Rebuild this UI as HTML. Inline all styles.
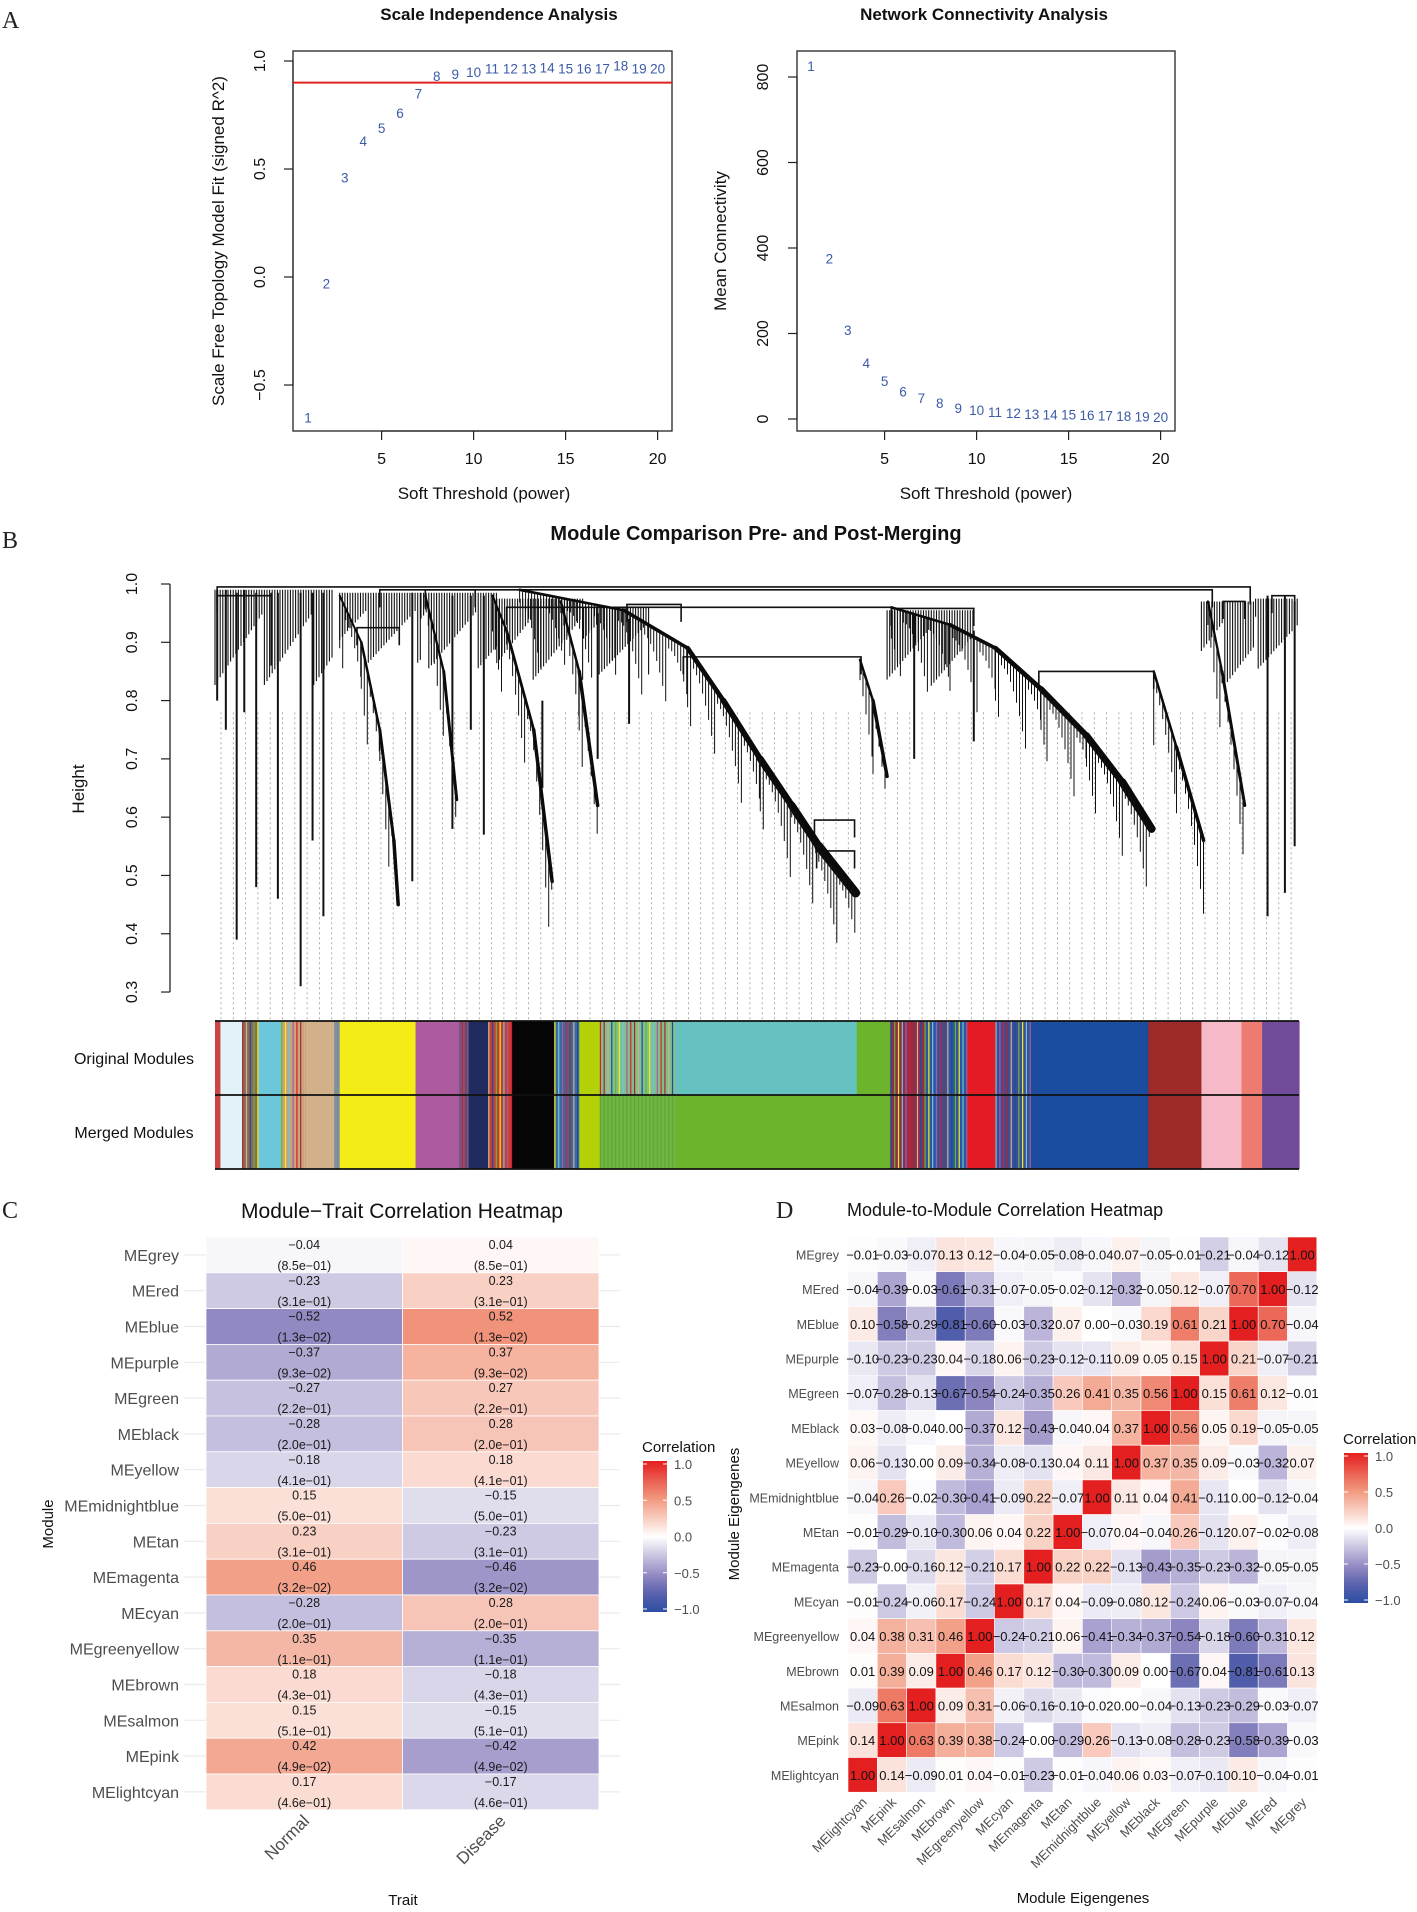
<!DOCTYPE html>
<html><head><meta charset="utf-8"><style>
html,body{margin:0;padding:0;background:#fff;}
svg{display:block;font-family:"Liberation Sans",sans-serif;}
</style></head><body>
<svg id="fig" width="1417" height="1912" viewBox="0 0 1417 1912" xmlns="http://www.w3.org/2000/svg">
<rect width="1417" height="1912" fill="#fff"/>
<g font-family="Liberation Serif, serif" font-size="24" fill="#222">
<text x="2" y="28">A</text>
<text x="2" y="548">B</text>
<text x="2" y="1218">C</text>
<text x="776" y="1218">D</text>
</g>
<g id="pa"></g><g id="pb"></g><g id="pc"></g><g id="pd"></g>
</svg>
<script>
// ---------- Panel A data ----------
const powers = [1,2,3,4,5,6,7,8,9,10,11,12,13,14,15,16,17,18,19,20];
const sftR2 = [-0.65,-0.03,0.46,0.63,0.69,0.76,0.85,0.93,0.94,0.95,0.965,0.965,0.965,0.97,0.965,0.965,0.965,0.98,0.965,0.965];
const meanK = [826,376,208,131,89,64,49,37,26,21,16,14,12,11,10,9,8,7,6,5];
const r2Ticks = [1.0,0.5,0.0,-0.5];
const kTicks = [0,200,400,600,800];
const xTicks = [5,10,15,20];
const cutoff = 0.9;
// ---------- Panel C data ----------
const modulesC = ["MEgrey","MEred","MEblue","MEpurple","MEgreen","MEblack","MEyellow","MEmidnightblue","MEtan","MEmagenta","MEcyan","MEgreenyellow","MEbrown","MEsalmon","MEpink","MElightcyan"];
const traits = ["Normal","Disease"];
const corNormal = [-0.04,-0.23,-0.52,-0.37,-0.27,-0.28,-0.18,0.15,0.23,0.46,-0.28,0.35,0.18,0.15,0.42,0.17];
const corDisease = [0.04,0.23,0.52,0.37,0.27,0.28,0.18,-0.15,-0.23,-0.46,0.28,-0.35,-0.18,-0.15,-0.42,-0.17];
const pvals = ["8.5e-01","3.1e-01","1.3e-02","9.3e-02","2.2e-01","2.0e-01","4.1e-01","5.0e-01","3.1e-01","3.2e-02","2.0e-01","1.1e-01","4.3e-01","5.1e-01","4.9e-02","4.6e-01"];
const legendTicks = [1.0,0.5,0.0,-0.5,-1.0];
// ---------- Panel D data ----------
const rowsD = ["MEgrey","MEred","MEblue","MEpurple","MEgreen","MEblack","MEyellow","MEmidnightblue","MEtan","MEmagenta","MEcyan","MEgreenyellow","MEbrown","MEsalmon","MEpink","MElightcyan"];
const colsD = ["MElightcyan","MEpink","MEsalmon","MEbrown","MEgreenyellow","MEcyan","MEmagenta","MEtan","MEmidnightblue","MEyellow","MEblack","MEgreen","MEpurple","MEblue","MEred","MEgrey"];
const corMat = [
[-0.01,-0.03,-0.07,0.13,0.12,-0.04,-0.05,-0.08,-0.04,0.07,-0.05,-0.01,-0.21,-0.04,-0.12,1.00],
[-0.04,-0.39,-0.03,-0.61,-0.31,-0.07,-0.05,-0.02,-0.12,-0.32,-0.05,0.12,-0.07,0.70,1.00,-0.12],
[0.10,-0.58,-0.29,-0.81,-0.60,-0.03,-0.32,0.07,0.00,-0.03,0.19,0.61,0.21,1.00,0.70,-0.04],
[-0.10,-0.23,-0.23,0.04,-0.18,0.06,-0.23,-0.12,-0.11,0.09,0.05,0.15,1.00,0.21,-0.07,-0.21],
[-0.07,-0.28,-0.13,-0.67,-0.54,-0.24,-0.35,0.26,0.41,0.35,0.56,1.00,0.15,0.61,0.12,-0.01],
[0.03,-0.08,-0.04,0.00,-0.37,0.12,-0.43,-0.04,0.04,0.37,1.00,0.56,0.05,0.19,-0.05,-0.05],
[0.06,-0.13,0.00,0.09,-0.34,-0.08,-0.13,0.04,0.11,1.00,0.37,0.35,0.09,-0.03,-0.32,0.07],
[-0.04,0.26,-0.02,-0.30,-0.41,-0.09,0.22,-0.07,1.00,0.11,0.04,0.41,-0.11,0.00,-0.12,-0.04],
[-0.01,-0.29,-0.10,-0.30,0.06,0.04,0.22,1.00,-0.07,0.04,-0.04,0.26,-0.12,0.07,-0.02,-0.08],
[-0.23,-0.00,-0.16,0.12,-0.21,0.17,1.00,0.22,0.22,-0.13,-0.43,-0.35,-0.23,-0.32,-0.05,-0.05],
[-0.01,-0.24,-0.06,0.17,-0.24,1.00,0.17,0.04,-0.09,-0.08,0.12,-0.24,0.06,-0.03,-0.07,-0.04],
[0.04,0.38,0.31,0.46,1.00,-0.24,-0.21,0.06,-0.41,-0.34,-0.37,-0.54,-0.18,-0.60,-0.31,0.12],
[0.01,0.39,0.09,1.00,0.46,0.17,0.12,-0.30,-0.30,0.09,0.00,-0.67,0.04,-0.81,-0.61,0.13],
[-0.09,0.63,1.00,0.09,0.31,-0.06,-0.16,-0.10,-0.02,0.00,-0.04,-0.13,-0.23,-0.29,-0.03,-0.07],
[0.14,1.00,0.63,0.39,0.38,-0.24,-0.00,-0.29,0.26,-0.13,-0.08,-0.28,-0.23,-0.58,-0.39,-0.03],
[1.00,0.14,-0.09,0.01,0.04,-0.01,-0.23,-0.01,-0.04,0.06,0.03,-0.07,-0.10,0.10,-0.04,-0.01]];
// ---------- Panel B data (leaf fraction 0..1, height) ----------
const heightTicks = [1.0,0.9,0.8,0.7,0.6,0.5,0.4,0.3];
const bandClusters = [
 [[0.281,.99],[0.377,.955],[0.436,.89],[0.469,.8],[0.503,.7],[0.532,.62],[0.557,.55],[0.591,.47]],
 [[0.624,.96],[0.678,.93],[0.720,.89],[0.762,.82],[0.804,.74],[0.837,.66],[0.864,.58]],
 [[0.866,.85],[0.887,.72],[0.912,.56]],
 [[0.595,.87],[0.607,.8],[0.620,.67]],
 [[0.115,.98],[0.135,.9],[0.152,.75],[0.165,.56],[0.169,.45]],
 [[0.194,.98],[0.211,.85],[0.223,.63]],
 [[0.256,.98],[0.269,.92],[0.294,.75],[0.311,.49]],
 [[0.319,.97],[0.336,.85],[0.353,.62]],
 [[0.916,.97],[0.929,.85],[0.950,.62]]];
const bandWidths = [9,8,3.5,3.5,3.5,3,3.5,3.5,3];
const singleBranches = [[0.020,.985,.39],[0.079,.985,.31],[0.100,.985,.43],[0.058,.985,.46],[0.038,.985,.48],[0.971,.98,.43],[0.987,.98,.47],[0.996,.97,.55],[0.182,.985,.49],[0.052,.985,.86],[0.002,.99,.8],[0.010,.99,.75],[0.027,.99,.78],[0.090,.985,.56],[0.219,.98,.58],[0.248,.98,.57],[0.302,.8,.65],[0.236,.98,.75],[0.353,.95,.7],[0.382,.94,.76],[0.645,.95,.7],[0.700,.92,.73]];
const combRegions = [[0.0,0.11,.99,.82],[0.115,0.19,.985,.86],[0.19,0.26,.985,.85],[0.26,0.34,.975,.83],[0.34,0.40,.96,.84],[0.62,0.70,.955,.82],[0.91,0.96,.97,.82],[0.96,1.0,.975,.85]];
const merges = [[0.002,0.955,.995],[0.152,0.920,.99],[0.269,0.624,.96],[0.432,0.596,.875],[0.760,0.866,.85],[0.553,0.590,.595],[0.555,0.590,.542],[0.131,0.170,.925],[0.930,0.950,.97],[0.975,0.996,.98],[0.002,0.052,.98],[0.194,0.240,.99],[0.380,0.430,.965],[0.624,0.70,.958]];
const origSegs = [[0,0.005,"#c44"],[0.005,0.025,"#e3f1f8"],[0.025,0.04,"#8b6a5a"],[0.04,0.061,"#6cc6dc"],[0.061,0.084,"#c9a37e"],[0.084,0.11,"#d2b08a"],[0.11,0.115,"#7a8fa0"],[0.115,0.185,"#f4ec17"],[0.185,0.224,"#ad5a9e"],[0.224,0.234,"#6a5a8a"],[0.234,0.252,"#1f2a5e"],[0.252,0.274,"#c0403a"],[0.274,0.313,"#050505"],[0.313,0.336,"#3a6aa0"],[0.336,0.355,"#b4d108"],[0.355,0.425,"#7fbf90"],[0.425,0.592,"#66c2c0"],[0.592,0.623,"#6cb42c"],[0.623,0.655,"#8a3050"],[0.655,0.694,"#2d55a0"],[0.694,0.720,"#e41a24"],[0.720,0.752,"#3a4f9a"],[0.752,0.861,"#1b4c9e"],[0.861,0.910,"#9f2a2a"],[0.910,0.947,"#f6b9c7"],[0.947,0.966,"#ee7b70"],[0.966,1.0,"#714a9a"]];
const mergedSegs = [[0,0.005,"#c44"],[0.005,0.025,"#e3f1f8"],[0.025,0.04,"#8b6a5a"],[0.04,0.061,"#6cc6dc"],[0.061,0.084,"#c9a37e"],[0.084,0.11,"#d2b08a"],[0.11,0.115,"#7a8fa0"],[0.115,0.185,"#f4ec17"],[0.185,0.224,"#ad5a9e"],[0.224,0.234,"#6a5a8a"],[0.234,0.252,"#1f2a5e"],[0.252,0.274,"#c0403a"],[0.274,0.313,"#050505"],[0.313,0.336,"#3a6aa0"],[0.336,0.355,"#b4d108"],[0.355,0.425,"#72b540"],[0.425,0.623,"#6cb42c"],[0.623,0.655,"#8a3050"],[0.655,0.694,"#2d55a0"],[0.694,0.720,"#e41a24"],[0.720,0.752,"#3a4f9a"],[0.752,0.861,"#1b4c9e"],[0.861,0.910,"#9f2a2a"],[0.910,0.947,"#f6b9c7"],[0.947,0.966,"#ee7b70"],[0.966,1.0,"#714a9a"]];
const stripeColors = ["#e41a1c","#1b4c9e","#6cc6dc","#a52a2a","#6cb42c","#ad5a9e","#d2b08a","#f4ec17"];
const stripeRegions = [[0.025,0.04],[0.061,0.084],[0.224,0.234],[0.252,0.274],[0.313,0.336],[0.355,0.425],[0.623,0.694],[0.720,0.752]];

const NS="http://www.w3.org/2000/svg";
function mk(tag, attrs, parent, txt){const e=document.createElementNS(NS,tag);for(const k in attrs)e.setAttribute(k,attrs[k]);if(txt!==undefined)e.textContent=txt;parent.appendChild(e);return e;}
const fmt = v => (v<0?"\u2212":"")+Math.abs(v).toFixed(1);
const fmt2 = v => (v<0||Object.is(v,-0)?"\u2212":"")+Math.abs(v).toFixed(2);

const cStops=[[-1,[44,78,163]],[-0.75,[90,98,174]],[-0.5,[150,140,196]],[0,[255,255,255]],[0.5,[241,152,126]],[1,[228,31,31]]];
function corColor(v){for(let i=0;i<cStops.length-1;i++){const a=cStops[i],b=cStops[i+1];if(v>=a[0]&&v<=b[0]){const t=(v-a[0])/(b[0]-a[0]);const c=a[1].map((x,j)=>Math.round(x+(b[1][j]-x)*t));return `rgb(${c[0]},${c[1]},${c[2]})`;}}return "#fff";}

// ================= PANEL A =================
const pa=document.getElementById('pa');
function drawPanelA(opts){
  const {x0,x1,y0,y1,xs,ys,vals,yt,title,ytitle,cx,tx,ytx,ylx,name}=opts;
  let e;
  e=mk('text',{x:tx,y:20,'text-anchor':'middle','font-size':17,'font-weight':'bold',fill:'#111'},pa,title);
  
  
  e=mk('rect',{x:x0,y:y0,width:x1-x0,height:y1-y0,fill:'none',stroke:'#222','stroke-width':1.3},pa);
  
  
  e=mk('line',{x1:xs(xTicks[0]),x2:xs(xTicks[xTicks.length-1]),y1:y1,y2:y1,stroke:'#222','stroke-width':1.3},pa);
  
  
  xTicks.forEach(t=>{
    e=mk('line',{x1:xs(t),x2:xs(t),y1:y1,y2:y1+9,stroke:'#222','stroke-width':1.2},pa);
    
    
    e=mk('text',{x:xs(t),y:y1+33,'text-anchor':'middle','font-size':16,fill:'#111'},pa,String(t));
    
    
  });
  e=mk('line',{x1:x0,x2:x0,y1:ys(yt[0]),y2:ys(yt[yt.length-1]),stroke:'#222','stroke-width':1.2},pa);
  
  
  yt.forEach(t=>{
    e=mk('line',{x1:x0-9,x2:x0,y1:ys(t),y2:ys(t),stroke:'#222','stroke-width':1.2},pa);
    
    
    const lab = (yt.length<5)?fmt(t):String(t);
    e=mk('text',{x:ylx,y:ys(t),'text-anchor':'middle','font-size':16,fill:'#111',transform:`rotate(-90 ${ylx} ${ys(t)})`},pa,lab);
    
    
  });
  e=mk('text',{x:cx,y:499,'text-anchor':'middle','font-size':17,fill:'#111'},pa,'Soft Threshold (power)');
  
  
  const my=(y0+y1)/2;
  e=mk('text',{x:ytx,y:my,'text-anchor':'middle','font-size':17,fill:'#111',transform:`rotate(-90 ${ytx} ${my})`},pa,ytitle);
  
  
  powers.forEach((p,i)=>{
    e=mk('text',{x:xs(p),y:ys(vals[i])+5,'text-anchor':'middle','font-size':13.5,fill:'#3b5aa8'},pa,String(p));
    
    
  });
}
const xsL=v=>308+(v-1)*18.4, ysL=v=>277-v*216;
const xsR=v=>811+(v-1)*18.4, ysR=v=>419-v*0.4275;
drawPanelA({x0:293,x1:672,y0:51,y1:431,xs:xsL,ys:ysL,vals:sftR2,yt:r2Ticks,title:'Scale Independence Analysis',ytitle:'Scale Free Topology Model Fit (signed R^2)',cx:484,tx:499,ytx:224,ylx:265,name:'scale-independence'});
let ln=mk('line',{x1:293,x2:672,y1:ysL(cutoff),y2:ysL(cutoff),stroke:'#e0201c','stroke-width':2},pa);


drawPanelA({x0:797,x1:1175,y0:51,y1:431,xs:xsR,ys:ysR,vals:meanK,yt:kTicks,title:'Network Connectivity Analysis',ytitle:'Mean Connectivity',cx:986,tx:984,ytx:726,ylx:768,name:'mean-connectivity'});

// ================= PANEL B =================
const pb=document.getElementById('pb');
const LX0=215, LX1=1299;
const lx=f=>LX0+f*(LX1-LX0);
const hy=h=>584+(1-h)*582.9;
let e=mk('text',{x:756,y:540,'text-anchor':'middle','font-size':20,'font-weight':'bold',fill:'#111'},pb,'Module Comparison Pre- and Post-Merging');


e=mk('line',{x1:170,x2:170,y1:hy(1.0),y2:hy(0.3),stroke:'#222','stroke-width':1.3},pb);


heightTicks.forEach(t=>{
  e=mk('line',{x1:161,x2:170,y1:hy(t),y2:hy(t),stroke:'#222','stroke-width':1.2},pb);
  
  
  e=mk('text',{x:137,y:hy(t),'text-anchor':'middle','font-size':16,fill:'#111',transform:`rotate(-90 137 ${hy(t)})`},pb,t.toFixed(1));
  
  
});
e=mk('text',{x:84,y:789,'text-anchor':'middle','font-size':17,fill:'#111',transform:'rotate(-90 84 789)'},pb,'Height');


let dp='';
for(let x=LX0+6;x<LX1;x+=12.3){dp+=`M${x.toFixed(1)} ${hy(0.78)}V1020`;}
e=mk('path',{d:dp,stroke:'#9a9a9a','stroke-width':0.8,'stroke-dasharray':'2 3',fill:'none'},pb);


let cp='';
combRegions.forEach((r,ri)=>{
  const a=lx(r[0]),b=lx(r[1]);let i=0;
  for(let x=a;x<b;x+=2.6){i++;const k=((i*37+ri*11)%19)/19;const h=r[2]-(r[2]-r[3])*(0.25+0.75*k);cp+=`M${x.toFixed(1)} ${hy(r[2]).toFixed(1)}V${hy(h).toFixed(1)}`;}
});
e=mk('path',{d:cp,stroke:'#111','stroke-width':1.1,fill:'none'},pb);


singleBranches.forEach(s=>{
  e=mk('line',{x1:lx(s[0]),x2:lx(s[0]),y1:hy(s[1]),y2:hy(s[2]),stroke:'#111','stroke-width':2},pb);
  
  
});
merges.forEach(m=>{
  e=mk('path',{d:`M${lx(m[0])} ${hy(m[2]-0.03)}V${hy(m[2])}H${lx(m[1])}V${hy(m[2]-0.03)}`,stroke:'#111','stroke-width':1.6,fill:'none'},pb);
  
  
});
bandClusters.forEach((pts,bi)=>{
  const n=pts.length-1;
  for(let s=0;s<n;s++){
    const w=1.5+(bandWidths[bi]-1.5)*((s+1)/n);
    e=mk('line',{x1:lx(pts[s][0]),y1:hy(pts[s][1]),x2:lx(pts[s+1][0]),y2:hy(pts[s+1][1]),stroke:'#0a0a0a','stroke-width':w.toFixed(1),'stroke-linecap':'round'},pb);
    
    
  }
  let sp='';let i=0;
  for(let s=0;s<n;s++){
    const xa=lx(pts[s][0]),xb=lx(pts[s+1][0]);
    for(let x=xa;x<xb;x+=3){i++;const t=(x-xa)/(xb-xa);const h=pts[s][1]+(pts[s+1][1]-pts[s][1])*t;const k=((i*53+bi*7)%17)/17;const L=0.02+0.12*k*k;sp+=`M${x.toFixed(1)} ${hy(h).toFixed(1)}V${hy(h-L).toFixed(1)}`;}
  }
  e=mk('path',{d:sp,stroke:'#111','stroke-width':1,fill:'none'},pb);
  
  
});
function drawBar(segs,y0,y1,label,name,merged){
  segs.forEach(s=>{
    const r=mk('rect',{x:lx(s[0]).toFixed(2),y:y0,width:(lx(s[1])-lx(s[0])+0.6).toFixed(2),height:y1-y0,fill:s[2]},pb);
    
    
  });
  stripeRegions.forEach((sr,ri)=>{
    let j=0;
    for(let f=sr[0];f<sr[1];f+=0.0035){j++;
      const c=stripeColors[(j*3+ri)%stripeColors.length];
      const r=mk('rect',{x:lx(f).toFixed(2),y:y0,width:1.2,height:y1-y0,fill:(merged&&ri===5)?'#5aa83a':c},pb);
      
      
    }
  });
  const t=mk('text',{x:134,y:(y0+y1)/2+6,'text-anchor':'middle','font-size':16,fill:'#111'},pb,label);
  
  
}
drawBar(origSegs,1021,1095,'Original Modules','original-modules-bar',false);
drawBar(mergedSegs,1095,1169,'Merged Modules','merged-modules-bar',true);
e=mk('path',{d:`M${LX0} 1021H${LX1}M${LX0} 1095H${LX1}M${LX0} 1169H${LX1}`,stroke:'#111','stroke-width':1.8},pb);



// ================= PANEL C =================
const pc=document.getElementById('pc');
const cX0=206,cW=196.5,cY0=1237,cH=35.8;
const cx=j=>cX0+j*cW, cy=i=>cY0+i*cH;
e=mk('text',{x:402,y:1218,'text-anchor':'middle','font-size':21,fill:'#111'},pc,'Module\u2212Trait Correlation Heatmap');


modulesC.forEach((m,i)=>{
  e=mk('line',{x1:184,x2:620,y1:cy(i)+cH/2,y2:cy(i)+cH/2,stroke:'#ebebeb','stroke-width':1.2},pc);
  
  
});
modulesC.forEach((m,i)=>{
  [corNormal,corDisease].forEach((col,j)=>{
    const r=mk('rect',{x:cx(j),y:cy(i),width:cW,height:cH,fill:corColor(col[i]),stroke:'#fff','stroke-width':0.8},pc);
    
    
    const t1=mk('text',{x:cx(j)+cW/2,y:cy(i)+12,'text-anchor':'middle','font-size':12.5,fill:'#1a1a1a'},pc,fmt2(col[i]));
    
    
    const t2=mk('text',{x:cx(j)+cW/2,y:cy(i)+33,'text-anchor':'middle','font-size':12.5,fill:'#1a1a1a'},pc,'('+pvals[i].replace('-','\u2212')+')');
    
    
  });
  const l=mk('text',{x:179,y:cy(i)+cH/2+6,'text-anchor':'end','font-size':16,fill:'#4d4d4d'},pc,m);
  
  
});
traits.forEach((t,j)=>{
  const x=cx(j)+cW/2+6, y=1822;
  const l=mk('text',{x:x,y:y,'text-anchor':'end','font-size':17,fill:'#4d4d4d',transform:`rotate(-45 ${x} ${y})`},pc,t);
  
  
});
e=mk('text',{x:403,y:1905,'text-anchor':'middle','font-size':15,fill:'#111'},pc,'Trait');


e=mk('text',{x:53,y:1524,'text-anchor':'middle','font-size':15,fill:'#111',transform:'rotate(-90 53 1524)'},pc,'Module');



function legend(parent,x,yTop,yBot,id,name){
  const defs=mk('defs',{},parent);
  const g=mk('linearGradient',{id:id,x1:0,y1:1,x2:0,y2:0},defs);
  for(let v=-1;v<=1.0001;v+=0.1){mk('stop',{offset:((v+1)/2).toFixed(3),'stop-color':corColor(Math.max(-1,Math.min(1,v)))},g);}
  let e=mk('text',{x:x-1,y:yTop-12,'font-size':15,fill:'#111'},parent,'Correlation');
  
  
  const ly=v=>yTop+(1-v)/2*(yBot-yTop);
  e=mk('rect',{x:x,y:yTop-3,width:24,height:yBot-yTop+6,fill:`url(#${id})`},parent);
  
  
  legendTicks.forEach(t=>{
    const tk=mk('path',{d:`M${x} ${ly(t)}h4M${x+20} ${ly(t)}h4`,stroke:'#fff','stroke-width':1},parent);
    
    
    const tl=mk('text',{x:x+31,y:ly(t)+5,'font-size':13,fill:'#4d4d4d'},parent,fmt(t));
    
    
  });
}
legend(pc,643,1464,1609,'gradC','trait-legend');

// ================= PANEL D =================
const pd=document.getElementById('pd');
const dX0=848,dW=29.3,dY0=1237,dH=34.7;
const dx=j=>dX0+j*dW, dy=i=>dY0+i*dH;
e=mk('text',{x:847,y:1216,'font-size':18,fill:'#111'},pd,'Module-to-Module Correlation Heatmap');


rowsD.forEach((r,i)=>{
  colsD.forEach((c,j)=>{
    const v=corMat[i][j];
    const rc=mk('rect',{x:dx(j),y:dy(i),width:dW,height:dH,fill:corColor(v),stroke:'#fff','stroke-width':0.6},pd);
    
    
  });
});
rowsD.forEach((r,i)=>{
  colsD.forEach((c,j)=>{
    const t=mk('text',{x:dx(j)+dW/2,y:dy(i)+dH/2+5,'text-anchor':'middle','font-size':13,fill:'#111'},pd,fmt2(corMat[i][j]));
    
    
  });
  const l=mk('text',{x:839,y:dy(i)+dH/2+5,'text-anchor':'end','font-size':12.5,fill:'#4d4d4d'},pd,r);
  
  
});
colsD.forEach((c,j)=>{
  const x=dx(j)+dW/2+5, y=1803;
  const l=mk('text',{x:x,y:y,'text-anchor':'end','font-size':13,fill:'#4d4d4d',transform:`rotate(-45 ${x} ${y})`},pd,c);
  
  
});
e=mk('text',{x:1083,y:1903,'text-anchor':'middle','font-size':15,fill:'#111'},pd,'Module Eigengenes');


e=mk('text',{x:739,y:1514,'text-anchor':'middle','font-size':15,fill:'#111',transform:'rotate(-90 739 1514)'},pd,'Module Eigengenes');


legend(pd,1344,1456,1600,'gradD','module-legend');
</script>
</body></html>
